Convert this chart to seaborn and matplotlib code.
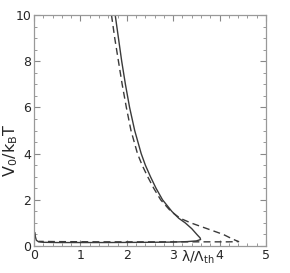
import numpy as np
import pandas as pd
import matplotlib
matplotlib.use("Agg")
import matplotlib.pyplot as plt
from matplotlib.ticker import MultipleLocator
import seaborn as sns

# curva continua (de arriba hacia la nariz y luego hacia la izquierda)
x_solida = [1.75, 1.82, 1.89, 1.97, 2.06, 2.17, 2.31, 2.40, 2.51, 2.63, 2.77, 2.97,
            3.12, 3.26, 3.40, 3.51, 3.58, 3.59, 3.50, 3.30, 3.00, 2.50, 1.50, 0.50,
            0.20, 0.10, 0.05, 0.03, 0.02]
y_solida = [10.0, 9.0, 8.0, 7.0, 6.0, 5.0, 4.0, 3.5, 3.0, 2.5, 2.0, 1.5,
            1.2, 1.0, 0.75, 0.5, 0.35, 0.28, 0.22, 0.19, 0.17, 0.16, 0.15, 0.15,
            0.16, 0.18, 0.25, 0.40, 0.58]

# curva discontinua
x_guion = [1.67, 1.74, 1.82, 1.90, 1.99, 2.09, 2.23, 2.33, 2.45, 2.58, 2.73, 2.95,
           3.15, 3.38, 3.73, 4.08, 4.28, 4.41, 4.20, 3.50, 2.50, 1.50, 0.50, 0.10]
y_guion = [10.0, 9.0, 8.0, 7.0, 6.0, 5.0, 4.0, 3.5, 3.0, 2.5, 2.0, 1.5,
           1.2, 1.0, 0.75, 0.5, 0.3, 0.19, 0.18, 0.18, 0.18, 0.18, 0.19, 0.2]

sns.set_style("ticks")
plt.rcParams['font.family'] = ['DejaVu Sans']
plt.rcParams['mathtext.default'] = 'regular'

fig = plt.figure(figsize=(2.9, 2.73), dpi=100)
ax = fig.add_axes([34 / 290, 1 - 246 / 273, 232 / 290, 231 / 273])

sns.lineplot(x=x_solida, y=y_solida, sort=False, estimator=None, ax=ax,
             color='#3a3a3a', lw=1.0)
sns.lineplot(x=x_guion, y=y_guion, sort=False, estimator=None, ax=ax,
             color='#3a3a3a', lw=1.0, linestyle=(0, (5, 3)))

ax.set_xlim(0, 5)
ax.set_ylim(0, 10)
ax.xaxis.set_major_locator(MultipleLocator(1))
ax.xaxis.set_minor_locator(MultipleLocator(0.2))
ax.yaxis.set_major_locator(MultipleLocator(2))
ax.yaxis.set_minor_locator(MultipleLocator(0.5))
ax.tick_params(which='both', direction='in', top=True, right=True,
               color='#888888', labelsize=9, pad=2)
ax.tick_params(which='major', length=4, width=0.8)
ax.tick_params(which='minor', length=2, width=0.6)
for s in ax.spines.values():
    s.set_color('#999999')
    s.set_linewidth(0.9)

# etiquetas de ejes
fig.text(11 / 290, 1 - 150 / 273, r'$V_0/k_BT$', rotation=90, fontsize=11.5,
         ha='center', va='center')
ax.text(3.53, -0.1, r'$\lambda/\Lambda_{th}$', transform=ax.transData,
        fontsize=10, ha='center', va='top')

plt.savefig('out.png', dpi=100)
